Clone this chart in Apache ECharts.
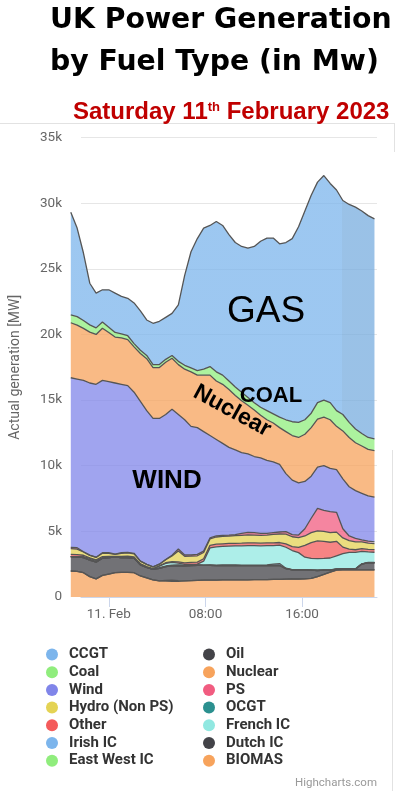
<!DOCTYPE html>
<html>
<head>
<meta charset="utf-8">
<script src="https://cdn.jsdelivr.net/npm/echarts@6/dist/echarts.min.js"></script>
<style>
html, body { margin: 0; padding: 0; background: #fff; }
#chart { width: 397px; height: 791px; }
</style>
</head>
<body>
<div id="chart"></div>
<script>
// hours relative to 00:00 on 11 Feb (half-hour steps)
const hours = [-2, -1.5, -1, -0.5, 0, 0.5, 1, 1.5, 2, 2.5, 3, 3.5, 4, 4.5, 5, 5.5, 6, 6.5, 7, 7.5,
  8, 8.5, 9, 9.5, 10, 10.5, 11, 11.5, 12, 12.5, 13, 13.5, 14, 14.5, 15, 15.5, 16, 16.5, 17, 17.5,
  18, 18.5, 19, 19.5, 20, 20.5, 21, 21.5, 22];

const tickHours = [0, 8, 16];
const tickLabels = ['11. Feb', '08:00', '16:00'];

// MW per fuel type
const ccgt = [7810, 6740, 5140, 3170, 2650, 2450, 2850, 3000, 2850, 2850, 3100, 3000, 2700, 3150, 3300, 3200, 3200, 4300, 6850, 8850,
  10050, 10750, 10750, 11450, 11400, 11150, 11000, 11100, 11380, 11900, 12650, 13140, 13390, 13200, 13500, 13950, 14900, 15900, 16600, 16800,
  17100, 16700, 16800, 16300, 16600, 16900, 16950, 16900, 16750];
const coal = [600, 650, 600, 550, 500, 480, 400, 350, 320, 300, 250, 250, 250, 230, 220, 220, 220, 250, 300, 300,
  350, 450, 650, 700, 700, 650, 650, 650, 600, 550, 600, 700, 700, 800, 900, 1050, 1150, 1100, 1100, 1250,
  1300, 1300, 1200, 1250, 1150, 1050, 950, 900, 900];
const nuclear = [4190, 4110, 3960, 3880, 3800, 3970, 3750, 3500, 3530, 3500, 3450, 3650, 3950, 3870, 3880, 3980, 3880, 3800, 3850, 4150,
  4000, 4300, 4600, 4450, 4500, 4400, 4150, 3950, 3700, 3550, 3250, 3100, 2950, 2800, 3200, 3400, 3450, 3600, 3700, 3650,
  3700, 3700, 3300, 3650, 3750, 3650, 3600, 3550, 3550];
const wind = [12920, 12850, 13050, 13110, 13170, 13130, 13030, 13030, 12830, 12700, 12270, 12170, 11710, 11300, 11100, 11040, 11120, 10250, 10300, 9800,
  9650, 9100, 7800, 7350, 7000, 6680, 6450, 6150, 5970, 5800, 5750, 5550, 5400, 5150, 4420, 4150, 3980, 3600, 3200, 3150,
  3400, 3300, 3250, 3800, 3750, 3630, 3550, 3450, 3400];
const ps = [100, 100, 20, 20, 20, 40, 40, 20, 40, 40, 40, 0, 0, 0, 0, 20, 60, 150, 100, 90,
  110, 110, 80, 80, 80, 80, 80, 150, 200, 180, 150, 130, 130, 150, 190, 160, 190, 550, 1100, 1720,
  1600, 1590, 1510, 700, 350, 270, 150, 140, 130];
const hydro = [430, 420, 250, 180, 180, 260, 230, 160, 230, 240, 240, 200, 180, 140, 120, 230, 430, 820, 500, 480,
  480, 480, 480, 550, 570, 560, 580, 600, 610, 600, 600, 600, 650, 650, 750, 750, 750, 720, 760, 760,
  760, 740, 700, 700, 650, 600, 520, 480, 460];
const other = [180, 180, 100, 50, 50, 100, 100, 60, 100, 120, 100, 30, 30, 30, 30, 50, 60, 100, 120, 150,
  160, 180, 200, 200, 200, 200, 200, 200, 200, 200, 200, 200, 200, 200, 250, 300, 400, 900, 1200, 1350,
  1300, 1200, 1100, 500, 250, 200, 200, 200, 200];
const frenchIC = [0, 0, 60, 80, 60, 20, 0, 0, 0, 0, 0, 50, 30, 30, 120, 200, 200, 150, 80, 60,
  60, 300, 1300, 1400, 1420, 1450, 1460, 1480, 1500, 1500, 1480, 1480, 1420, 1400, 1600, 1450, 1300, 950, 880, 880,
  880, 900, 1000, 1150, 1250, 1250, 950, 800, 780];
const irishIC = [0, 0, 20, 60, 60, 0, 0, 0, 0, 0, 0, 0, 0, 0, 50, 50, 50, 30, 20, 20,
  20, 20, 30, 30, 30, 30, 30, 30, 30, 30, 30, 50, 100, 150, 30, 20, 20, 20, 20, 20,
  20, 20, 20, 20, 20, 20, 20, 20, 20];
const ocgt = [0, 0, 0, 0, 0, 0, 0, 0, 0, 0, 0, 0, 0, 0, 0, 0, 0, 0, 0, 0,
  0, 0, 0, 0, 0, 0, 0, 0, 0, 0, 0, 0, 0, 0, 0, 0, 0, 0, 0, 0,
  0, 0, 0, 0, 0, 0, 0, 0, 0];
const oil = [0, 0, 0, 0, 0, 0, 0, 0, 0, 0, 0, 0, 0, 0, 0, 0, 0, 0, 0, 0,
  0, 0, 0, 0, 0, 0, 0, 0, 0, 0, 0, 0, 0, 0, 0, 0, 0, 0, 0, 0,
  0, 0, 0, 0, 0, 0, 0, 0, 0];
const dutchIC = [1090, 1100, 1150, 1250, 1280, 1300, 1250, 1180, 1120, 1120, 1100, 850, 800, 800, 950, 1050, 1100, 1150, 1150, 1150,
  1150, 1130, 1120, 1100, 1100, 1100, 1100, 1090, 1080, 1070, 1070, 1060, 1060, 1050, 800, 700, 690, 680, 620, 460,
  320, 150, 70, 70, 70, 70, 450, 550, 550];
const eastWestIC = [0, 0, 0, 0, 0, 0, 0, 0, 0, 0, 0, 0, 0, 0, 0, 40, 80, 50, 0, 0,
  0, 0, 0, 0, 0, 0, 0, 0, 0, 0, 0, 0, 0, 0, 0, 0, 0, 0, 0, 0,
  0, 0, 0, 0, 0, 0, 0, 0, 0];
const biomas = [1980, 1950, 1850, 1550, 1380, 1650, 1750, 1850, 1880, 1880, 1850, 1600, 1450, 1300, 1230, 1220, 1200, 1200, 1230, 1250,
  1270, 1280, 1290, 1290, 1300, 1300, 1300, 1300, 1310, 1320, 1320, 1330, 1340, 1350, 1360, 1370, 1370, 1380, 1420, 1560,
  1720, 1900, 2050, 2060, 2060, 2060, 2060, 2060, 2060];

const legendLeft = ['CCGT', 'Coal', 'Wind', 'Hydro (Non PS)', 'Other', 'Irish IC', 'East West IC'];
const legendRight = ['Oil', 'Nuclear', 'PS', 'OCGT', 'French IC', 'Dutch IC', 'BIOMAS'];

// bottom of the stack first
const stack = [
  ['BIOMAS', biomas, '#f7a35c'],
  ['East West IC', eastWestIC, '#90ed7d'],
  ['Dutch IC', dutchIC, '#434348'],
  ['Oil', oil, '#434348'],
  ['OCGT', ocgt, '#2b908f'],
  ['Irish IC', irishIC, '#7cb5ec'],
  ['French IC', frenchIC, '#91e8e1'],
  ['Other', other, '#f45b5b'],
  ['Hydro (Non PS)', hydro, '#e4d354'],
  ['PS', ps, '#f15c80'],
  ['Wind', wind, '#8085e9'],
  ['Nuclear', nuclear, '#f7a35c'],
  ['Coal', coal, '#90ed7d'],
  ['CCGT', ccgt, '#7cb5ec']
];

const chart = echarts.init(document.getElementById('chart'));

// outer plot box (gridlines, axes) and the inner box the data spans
const xMin = -2.3, xMax = 22.2;
const plotLeft = 67, plotRight = 377;
const pxPerHour = (plotRight - plotLeft) / (xMax - xMin);
const dataLeft = plotLeft + (hours[0] - xMin) * pxPerHour;
const dataRight = plotLeft + (hours[hours.length - 1] - xMin) * pxPerHour;

// CCGT has a slightly darker zone at the right end
const zoneAt = (19.4 - hours[0]) / (hours[hours.length - 1] - hours[0]);
const ccgtFill = new echarts.graphic.LinearGradient(0, 0, 1, 0, [
  { offset: 0, color: '#7cb5ec' },
  { offset: zoneAt, color: '#7cb5ec' },
  { offset: zoneAt, color: '#78addf' },
  { offset: 1, color: '#78addf' }
]);

const series = stack.map(([name, vals, color]) => ({
  name: name,
  type: 'line',
  stack: 'gen',
  xAxisIndex: 1,
  yAxisIndex: 1,
  data: vals,
  showSymbol: false,
  symbol: 'none',
  silent: true,
  itemStyle: { color: color },
  lineStyle: { color: '#555', width: 1.3 },
  areaStyle: { color: name === 'CCGT' ? ccgtFill : color, opacity: 0.75 },
  emphasis: { disabled: true }
}));

const labelFont = 'Roboto';
const legendBase = {
  orient: 'vertical',
  top: 647,
  padding: 0,
  itemWidth: 12,
  itemHeight: 12,
  itemGap: 2.7,
  icon: 'circle',
  selectedMode: false,
  itemStyle: { borderWidth: 0 },
  textStyle: { fontFamily: labelFont, fontWeight: 'bold', fontSize: 15, color: '#333', padding: [0, 0, 0, 6] }
};

const titleFont = { fontFamily: 'DejaVu Sans', fontWeight: 'bold', fontSize: 28.3, color: '#000' };

const option = {
  animation: false,
  backgroundColor: '#fff',
  title: [{
    text: 'UK Power Generation',
    left: 50, top: 7, padding: 0,
    textStyle: titleFont
  }, {
    text: 'by Fuel Type (in Mw)',
    left: 50, top: 49, padding: 0,
    textStyle: titleFont
  }, {
    text: '{m|Saturday 11}{s|th}{m| February 2023}',
    left: 73, top: 100.5, padding: 0,
    textStyle: {
      rich: {
        m: { fontFamily: 'Liberation Sans', fontWeight: 'bold', fontSize: 24, lineHeight: 24, color: '#c00000' },
        s: { fontFamily: 'Liberation Sans', fontWeight: 'bold', fontSize: 13, lineHeight: 13, color: '#c00000', verticalAlign: 'top' }
      }
    }
  }],
  legend: [
    Object.assign({}, legendBase, { left: 46, data: legendLeft }),
    Object.assign({}, legendBase, { left: 203, data: legendRight })
  ],
  grid: [
    { left: plotLeft, right: 397 - plotRight, top: 137.5, bottom: 194 },
    { left: dataLeft, right: 397 - dataRight, top: 137.5, bottom: 194 }
  ],
  xAxis: [{
    gridIndex: 0,
    type: 'value',
    min: xMin,
    max: xMax,
    z: 5,
    axisLine: { show: true, lineStyle: { color: '#ccd6eb' } },
    axisTick: { show: true, customValues: tickHours, length: 10, lineStyle: { color: '#ccd6eb' } },
    axisLabel: {
      customValues: tickHours,
      formatter: v => tickLabels[tickHours.indexOf(v)],
      color: '#666', fontFamily: labelFont, fontSize: 13.5, margin: 11
    },
    splitLine: { show: false }
  }, {
    gridIndex: 1,
    type: 'category',
    data: hours,
    boundaryGap: false,
    show: false
  }],
  yAxis: [{
    gridIndex: 0,
    type: 'value',
    min: 0,
    max: 35000,
    interval: 5000,
    name: 'Actual generation [MW]',
    nameLocation: 'middle',
    nameGap: 59,
    nameTextStyle: { color: '#666', fontFamily: labelFont, fontSize: 14 },
    axisLine: { show: false },
    axisTick: { show: false },
    axisLabel: {
      color: '#666', fontFamily: labelFont, fontSize: 13.5, margin: 19,
      formatter: v => v === 0 ? '0' : (v / 1000) + 'k'
    },
    splitLine: { lineStyle: { color: '#e6e6e6' } }
  }, {
    gridIndex: 1,
    type: 'value',
    min: 0,
    max: 35000,
    show: false,
    splitLine: { show: false }
  }],
  graphic: [
    { type: 'line', shape: { x1: 0, y1: 123.5, x2: 395, y2: 123.5 }, style: { stroke: '#e2e2e2', lineWidth: 1 } },
    { type: 'line', shape: { x1: 394.5, y1: 123.5, x2: 394.5, y2: 152 }, style: { stroke: '#e2e2e2', lineWidth: 1 } },
    { type: 'line', shape: { x1: 392.5, y1: 450, x2: 392.5, y2: 791 }, style: { stroke: '#e2e2e2', lineWidth: 1 } },
    { type: 'text', x: 266, y: 312, z: 100,
      style: { text: 'GAS', font: '37px "Liberation Sans"', fill: '#000', align: 'center', verticalAlign: 'middle', textAlign: 'center', textVerticalAlign: 'middle' } },
    { type: 'text', x: 271, y: 395.5, z: 100,
      style: { text: 'COAL', font: 'bold 22px "Liberation Sans"', fill: '#000', align: 'center', verticalAlign: 'middle', textAlign: 'center', textVerticalAlign: 'middle' } },
    { type: 'text', x: 232, y: 411, rotation: -0.5, z: 100,
      style: { text: 'Nuclear', font: 'bold 23px "Liberation Sans"', fill: '#000', align: 'center', verticalAlign: 'middle', textAlign: 'center', textVerticalAlign: 'middle' } },
    { type: 'text', x: 167, y: 481, z: 100,
      style: { text: 'WIND', font: 'bold 26px "Liberation Sans"', fill: '#000', align: 'center', verticalAlign: 'middle', textAlign: 'center', textVerticalAlign: 'middle' } },
    { type: 'text', x: 377, y: 783, z: 100,
      style: { text: 'Highcharts.com', font: '11.5px Roboto', fill: '#999', align: 'right', verticalAlign: 'middle', textAlign: 'right', textVerticalAlign: 'middle' } }
  ],
  series: series
};

chart.setOption(option);
</script>
</body>
</html>
